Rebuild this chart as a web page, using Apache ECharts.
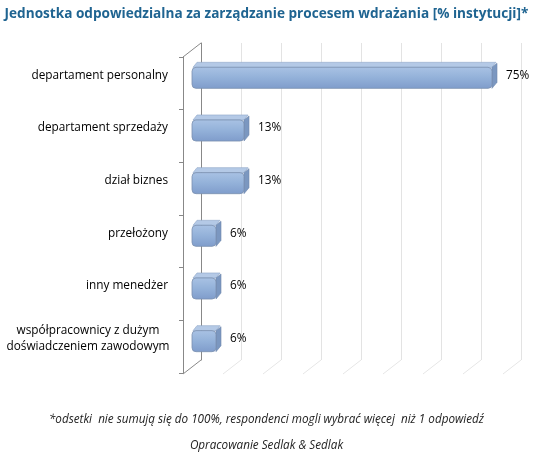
<!DOCTYPE html>
<html>
<head>
<meta charset="utf-8">
<script src="https://cdn.jsdelivr.net/npm/echarts@6/dist/echarts.min.js"></script>
<style>
html,body{margin:0;padding:0;background:#fff;}
#main{width:533px;height:455px;}
</style>
</head>
<body>
<div id="main"></div>
<script>
// dane z wykresu
var categories = ['departament personalny', 'departament sprzedaży', 'dział biznes', 'przełożony', 'inny menedżer', 'współpracownicy z dużym\ndoświadczeniem zawodowym'];
var values = [75, 13, 13, 6, 6, 6];
var gridTicks = [0, 10, 20, 30, 40, 50, 60, 70, 80];

var DX = 18, DY = 14;   // przesuniecie tylnej sciany (3D)
var D = 5;              // glebokosc slupka

var chart = echarts.init(document.getElementById('main'));

function renderBar(params, api) {
    var val = api.value(0), cat = api.value(1);
    var s = api.coord([0, cat]);
    var e = api.coord([val, cat]);
    var h = api.size([0, 1])[1] * 0.40;
    var x0 = s[0], x1 = e[0];
    var y0 = s[1] - (h - D) / 2, y1 = y0 + h;
    return {
        type: 'group',
        children: [
            {type: 'polygon', shape: {points: [[x0 + 1, y0], [x0 + D, y0 - D], [x1 + D - 1, y0 - D], [x1, y0]]},
             style: {fill: '#b4c9e6', stroke: '#8ea6c8', lineWidth: 0.6}},
            {type: 'polygon', shape: {points: [[x1, y0], [x1 + D, y0 - D + 1], [x1 + D, y1 - D - 1], [x1, y1]]},
             style: {fill: '#7b97c0', stroke: '#6f88ad', lineWidth: 0.6}},
            {type: 'rect', shape: {x: x0, y: y0, width: x1 - x0, height: h, r: 4},
             style: {
                 fill: new echarts.graphic.LinearGradient(0, 0, 0, 1, [
                     {offset: 0, color: '#a9c2e4'},
                     {offset: 0.5, color: '#93b1d9'},
                     {offset: 1, color: '#7f9ccb'}
                 ]),
                 stroke: '#7b91b0', lineWidth: 0.8
             }},
            {type: 'text', x: x1 + D + 9, y: s[1],
             style: {text: val + '%', fill: '#000', font: '11.8px "Open Sans", sans-serif', verticalAlign: 'middle'}}
        ]
    };
}

function renderFloor(params, api) {
    var v = api.value(0);
    var cs = params.coordSys;
    var x = api.coord([v, 0])[0];
    var yb = cs.y + cs.height;
    var children = [
        {type: 'line', shape: {x1: x, y1: yb, x2: x - DX, y2: yb + DY},
         style: {stroke: v === 0 ? '#888' : '#e6e6e6', lineWidth: 1}}
    ];
    if (v === 0) {
        children.push({type: 'line', shape: {x1: x, y1: cs.y, x2: x - DX, y2: cs.y + DY},
                       style: {stroke: '#888', lineWidth: 1}});
    }
    return {type: 'group', children: children};
}

chart.setOption({
    animation: false,
    title: [
        {text: 'Jednostka odpowiedzialna za zarządzanie procesem wdrażania [% instytucji]*',
         left: 'center', top: 2,
         textStyle: {color: '#1f6491', fontSize: 13.6, fontWeight: 'bold', fontFamily: 'Open Sans'}},
        {text: '*odsetki  nie sumują się do 100%, respondenci mogli wybrać więcej  niż 1 odpowiedź',
         left: 'center', top: 409,
         textStyle: {color: '#222', fontSize: 11.7, fontStyle: 'italic', fontWeight: 'normal', fontFamily: 'Open Sans'}},
        {text: 'Opracowanie Sedlak & Sedlak',
         left: 'center', top: 435,
         textStyle: {color: '#222', fontSize: 11.7, fontStyle: 'italic', fontWeight: 'normal', fontFamily: 'Open Sans'}}
    ],
    grid: [
        {left: 183, top: 57, width: 320, height: 316},
        {left: 192, top: 49, width: 320, height: 316},
        {left: 201, top: 43, width: 320, height: 317}
    ],
    xAxis: [
        {gridIndex: 0, type: 'value', min: 0, max: 80, show: false},
        {gridIndex: 1, type: 'value', min: 0, max: 80, show: false},
        {gridIndex: 2, type: 'value', min: 0, max: 80, interval: 10,
         axisLine: {show: false}, axisTick: {show: false}, axisLabel: {show: false},
         splitLine: {show: true, lineStyle: {color: '#e3e3e3', width: 1}}}
    ],
    yAxis: [
        {gridIndex: 0, type: 'category', inverse: true, data: categories,
         axisLine: {show: true, lineStyle: {color: '#888'}},
         axisTick: {show: true, length: 4, lineStyle: {color: '#888'}},
         axisLabel: {show: false}},
        {gridIndex: 1, type: 'category', inverse: true, data: categories,
         axisLine: {show: false}, axisTick: {show: false},
         axisLabel: {margin: 24, color: '#000', fontSize: 11.8, fontFamily: 'Open Sans', lineHeight: 16,
            formatter: function (v) {
                if (v.indexOf('\n') < 0) return v;
                return v.split('\n').map(function (l) { return '{c|' + l + '}'; }).join('\n');
            },
            rich: {c: {width: 160, align: 'center', fontSize: 11.8, fontFamily: 'Open Sans', color: '#000', lineHeight: 16}}}},
        {gridIndex: 2, type: 'category', inverse: true, data: categories,
         axisLine: {show: true, lineStyle: {color: '#888'}},
         axisTick: {show: false}, axisLabel: {show: false}}
    ],
    series: [
        {type: 'custom', xAxisIndex: 2, yAxisIndex: 2, renderItem: renderFloor,
         data: gridTicks.map(function (t) { return [t, 0]; }), silent: true, z: 1},
        {type: 'custom', xAxisIndex: 1, yAxisIndex: 1, renderItem: renderBar,
         encode: {x: 0, y: 1},
         data: values.map(function (v, i) { return [v, i]; }), z: 3}
    ]
});
</script>
</body>
</html>
